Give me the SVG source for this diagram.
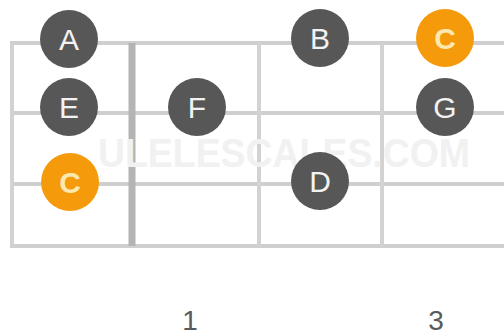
<svg xmlns="http://www.w3.org/2000/svg" width="504" height="336" viewBox="0 0 504 336">
  <style>
    .str { stroke: #cfcfcf; stroke-width: 4; }
    .fret { stroke: #d2d2d2; stroke-width: 4; }
    .nut { stroke: #b4b4b4; stroke-width: 7; }
    .dark { fill: #575757; }
    .root { fill: #f59a0a; }
    .lbl { font-family: "Liberation Sans", Arial, sans-serif; font-size: 30px; fill: #f2f2f2; text-anchor: middle; }
    .root-lbl { fill: #fde9b0; font-weight: bold; }
    .num { font-family: "Liberation Sans", Arial, sans-serif; font-size: 28px; fill: #5a5a5a; text-anchor: middle; }
    .wm { font-family: "Liberation Sans", Arial, sans-serif; font-size: 40px; font-weight: bold; fill: #f1f1f1; }
  </style>
  <rect width="504" height="336" fill="#ffffff"/>
  <g id="grid">
    <line class="str" x1="10" y1="43" x2="504" y2="43"/>
    <line class="str" x1="10" y1="113" x2="504" y2="113"/>
    <line class="str" x1="10" y1="184" x2="504" y2="184"/>
    <line class="str" x1="10" y1="246" x2="504" y2="246"/>
    <line class="fret" x1="12" y1="43" x2="12" y2="246"/>
    <line class="nut" x1="132" y1="43" x2="132" y2="246"/>
    <line class="fret" x1="259" y1="43" x2="259" y2="246"/>
    <line class="fret" x1="382" y1="43" x2="382" y2="246"/>
  </g>
  <text class="wm" x="98" y="167" textLength="372" lengthAdjust="spacingAndGlyphs">ULELESCALES.COM</text>
  <g id="connectors"></g>
  <g id="note-A"><circle class="dark" cx="69" cy="39" r="29"/><text class="lbl" x="69" y="50">A</text></g>
  <g id="note-B"><circle class="dark" cx="320" cy="38" r="29"/><text class="lbl" x="320" y="49">B</text></g>
  <g id="note-C-top"><circle class="root" cx="445" cy="38" r="29"/><text class="lbl root-lbl" x="445" y="49">C</text></g>
  <g id="note-E"><circle class="dark" cx="69" cy="107" r="29"/><text class="lbl" x="69" y="118">E</text></g>
  <g id="note-F"><circle class="dark" cx="197" cy="107" r="29"/><text class="lbl" x="197" y="118">F</text></g>
  <g id="note-G"><circle class="dark" cx="445" cy="107" r="29"/><text class="lbl" x="445" y="118">G</text></g>
  <g id="note-C-low"><circle class="root" cx="70" cy="182" r="29"/><text class="lbl root-lbl" x="70" y="193">C</text></g>
  <g id="note-D"><circle class="dark" cx="320" cy="181" r="29"/><text class="lbl" x="320" y="192">D</text></g>
  <g id="fret-numbers">
    <text class="num" x="190" y="330">1</text>
    <text class="num" x="436" y="330">3</text>
  </g>
</svg>
